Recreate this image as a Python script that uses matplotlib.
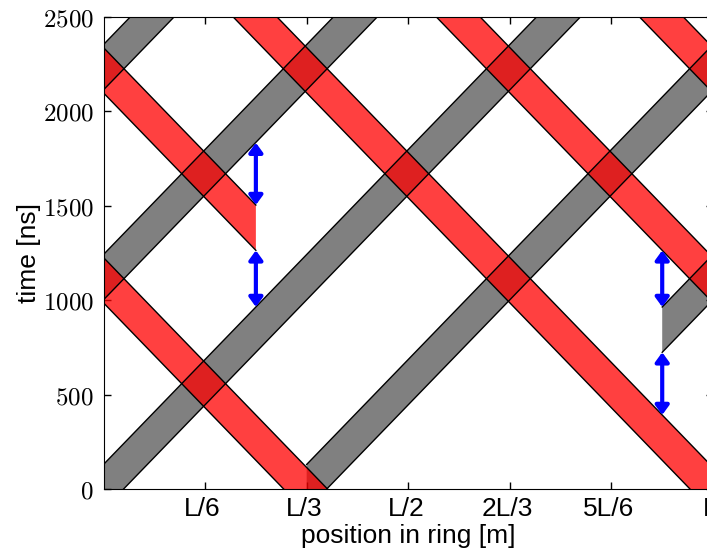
import matplotlib
matplotlib.use('Agg')
import matplotlib.pyplot as plt
from matplotlib.transforms import ScaledTranslation

plt.rcParams['mathtext.fontset'] = 'cm'
plt.rcParams['font.family'] = ['Liberation Sans', 'DejaVu Sans']

T_rev = 3336.0   # ns for one turn of the ring (x in units of L)
tau = 240.0      # bunch length [ns]

# beam 1 (moving +x): head time at x=0, and x range of each piece
gray_head = [130.0, 130.0 - T_rev / 3, 130.0 + 2 * T_rev / 3,
             130.0 - 2 * T_rev / 3, 130.0 + T_rev / 3]
gray_x0 = [0.0, 1 / 3, 0.0, 11 / 12, 0.0]
gray_x1 = [1.0, 1.0, 1.0, 1.0, 1.0]

# beam 2 (moving -x)
red_head = [1226.0, 1226.0 + T_rev, 1226.0 + T_rev / 3,
            1226.0 + T_rev / 3 + T_rev, 1226.0 + 2 * T_rev / 3]
red_x0 = [0.0, 0.0, 0.0, 0.0, 0.0]
red_x1 = [1.0, 1.0, 0.25, 1.0, 1.0]

# gaps marked with arrows
arrow_x = [0.25, 0.25, 11 / 12, 11 / 12]
arrow_t0 = [964.0, 1504.0, 392.0, 964.0]
arrow_t1 = [1264.0, 1834.0, 724.0, 1264.0]

xtick_pos = [1 / 6, 1 / 3, 1 / 2, 2 / 3, 5 / 6, 1.0]
xtick_lab = ['L/6', 'L/3', 'L/2', '2L/3', '5L/6', 'L']
ytick_pos = [0, 500, 1000, 1500, 2000, 2500]

fig = plt.figure(figsize=(7.07, 5.48), dpi=100)
ax = fig.add_axes([103.5 / 707, 59 / 548, 609.5 / 707, 472 / 548])


def band(x0, x1, head, sign, **kw):
    hi0 = head + sign * T_rev * x0
    hi1 = head + sign * T_rev * x1
    ax.fill([x0, x1, x1, x0], [hi0 - tau, hi1 - tau, hi1, hi0], lw=0, **kw)
    ax.plot([x0, x1], [hi0, hi1], 'k', lw=1, zorder=4)
    ax.plot([x0, x1], [hi0 - tau, hi1 - tau], 'k', lw=1, zorder=4)


for i in range(len(gray_head)):
    band(gray_x0[i], gray_x1[i], gray_head[i], 1, color='#808080', zorder=1)
for i in range(len(red_head)):
    band(red_x0[i], red_x1[i], red_head[i], -1, color='red', alpha=0.75, zorder=2)

for i in range(len(arrow_x)):
    ax.annotate('', xy=(arrow_x[i], arrow_t1[i]), xytext=(arrow_x[i], arrow_t0[i]),
                arrowprops=dict(arrowstyle='<|-|>,head_length=0.55,head_width=0.4',
                                color='blue', lw=3, shrinkA=0, shrinkB=0,
                                mutation_scale=10), zorder=5)

ax.set_xlim(0, 1)
ax.set_ylim(0, 2500)
ax.set_xticks(xtick_pos)
ax.set_xticklabels(xtick_lab, fontsize=19)
ax.set_yticks(ytick_pos)
ax.set_yticklabels(['$%d$' % v for v in ytick_pos], fontsize=18)
ax.tick_params(direction='in', top=True, right=True, length=5, width=1)
ax.tick_params(axis='x', pad=6)
ax.tick_params(axis='y', pad=7)
ax.set_xlabel('position in ring [m]', fontsize=19, labelpad=2)
ax.set_ylabel('time [ns]', fontsize=19, labelpad=1)

# x tick labels sit a little left of their ticks
shift = ScaledTranslation(-2.5 / 100, 0, fig.dpi_scale_trans)
for lab in ax.get_xticklabels():
    lab.set_transform(lab.get_transform() + shift)

fig.savefig('out.png', dpi=100)
